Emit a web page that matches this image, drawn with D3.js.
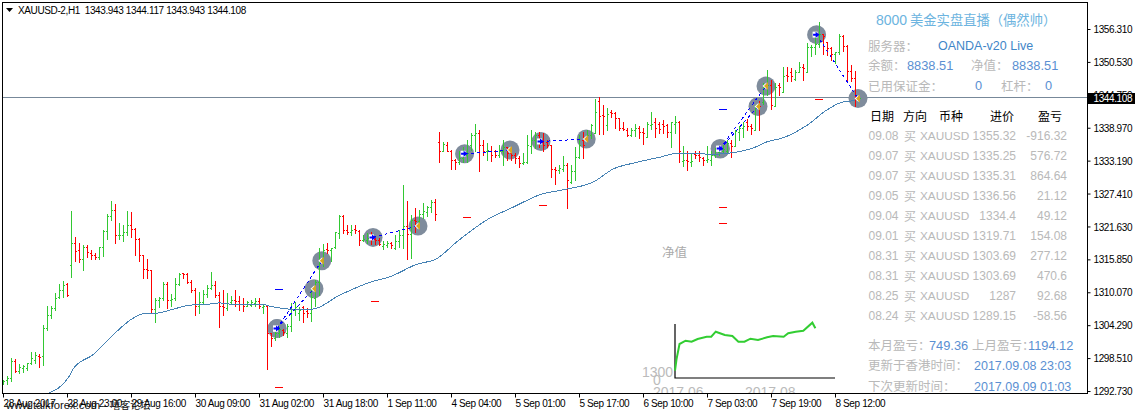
<!DOCTYPE html>
<html>
<head>
<meta charset="utf-8">
<script src="https://cdn.jsdelivr.net/npm/d3@7"></script>
<style>
body { margin: 0; background: #fff; }
text { font-family: "Liberation Sans", Arial, sans-serif; }
.mt { font-size: 10px; letter-spacing: -0.38px; fill: #000; }
.cn { font-family: "Noto Sans CJK SC", sans-serif; }
</style>
</head>
<body>
<div id="chart"></div>
<script>
// hourly bars
var opens = [1294.3,1294.7,1295.0,1298.0,1296.3,1296.7,1296.8,1297.7,1298.2,1298.8,
  1298.9,1303.8,1306.1,1307.3,1309.2,1310.5,1311.5,1314.8,1318.7,1317.5,
  1316.0,1318.1,1316.9,1316.6,1316.2,1318.1,1320.9,1323.4,1324.5,1320.1,
  1320.2,1320.7,1321.9,1321.1,1319.4,1316.6,1314.1,1314.0,1307.1,1308.8,
  1309.1,1311.6,1308.7,1309.0,1311.6,1313.4,1313.3,1311.8,1310.5,1307.7,
  1308.4,1309.7,1310.8,1311.4,1309.6,1307.6,1307.3,
  1308.3,1308.7,1308.6,1308.0,1307.7,1307.9,1308.1,1308.6,1307.4,1307.7,
  1302.9,1302.0,1302.9,1303.5,1302.9,1304.2,1307.0,1306.4,1307.4,1306.7,
  1306.4,1309.0,1311.9,1315.5,1317.7,1317.5,1318.0,1320.4,1323.4,1321.0,
  1320.7,1321.1,1320.8,1319.3,1319.3,1320.1,1319.4,1319.3,1318.2,1318.4,
  1318.7,1317.9,1319.0,1320.1,1321.7,1320.3,1322.8,1322.6,1323.9,1324.2,
  1325.1,1326.0,
  1336.5,1334.9,1335.9,1334.9,1333.3,1333.0,1333.6,1334.2,1335.9,1337.7,
  1338.0,1335.9,1334.9,1334.9,1334.9,1334.1,1334.8,1335.5,1334.5,1334.2,
  1333.6,1332.8,1333.0,1335.8,1336.8,1337.7,1336.5,1336.5,1335.9,1331.7,
  1331.6,1331.7,1332.4,1329.5,1331.4,1333.9,1336.8,1337.1,1337.7,1338.0,
  1343.6,1341.2,1339.5,1341.8,1341.5,1340.6,1338.9,1338.6,1337.7,1338.6,
  1338.9,1338.3,1337.4,1339.5,1339.9,1339.7,1339.7,1339.5,1338.3,1339.7,
  1340.0,
  1333.1,1333.3,1333.0,1334.3,1334.1,1333.7,1333.3,1333.3,1334.2,1334.7,
  1334.8,1334.8,1336.2,1335.7,1338.3,1338.9,1339.9,1339.2,1338.6,1343.0,
  1343.5,1346.2,1346.5,1342.7,1346.5,1345.2,1348.2,1348.8,1347.5,1348.7,
  1349.7,1348.8,1353.2,1353.2,1353.6,1355.4,1354.1,1352.9,1351.9,1352.2,
  1355.1,1353.4,1349.0,1347.7,1343.943];
var highs = [1294.7,1295.3,1298.5,1298.3,1297.4,1297.3,1297.6,1299.5,1299.5,1299.3,
  1304.4,1307.7,1307.6,1310.0,1311.5,1312.1,1311.7,1324.4,1319.7,1318.7,
  1318.4,1318.4,1317.5,1317.0,1318.1,1321.0,1323.8,1326.1,1325.6,1322.3,
  1321.9,1324.4,1324.1,1321.3,1319.6,1316.6,1316.0,1314.0,1309.0,1309.3,
  1311.8,1311.8,1309.8,1312.5,1313.5,1313.5,1313.5,1312.2,1310.8,1310.2,
  1310.4,1311.4,1313.7,1312.0,1310.2,1310.4,1309.9,
  1309.4,1310.5,1309.4,1309.0,1308.6,1308.8,1309.0,1309.0,1307.8,1307.8,
  1303.0,1303.8,1304.0,1303.6,1304.5,1308.1,1308.4,1307.5,1307.7,1307.3,
  1310.5,1312.2,1317.9,1318.6,1318.7,1317.9,1320.7,1323.7,1323.7,1321.9,
  1321.9,1321.9,1321.0,1320.1,1320.4,1320.7,1319.6,1319.6,1319.1,1319.1,
  1318.9,1320.1,1321.0,1328.9,1326.1,1323.7,1324.8,1324.5,1325.7,1325.2,
  1326.3,1326.5,
  1338.2,1336.4,1336.5,1335.1,1333.4,1334.8,1335.6,1336.8,1338.0,1339.7,
  1338.6,1336.8,1336.2,1335.8,1335.1,1335.9,1336.8,1335.6,1335.6,1334.5,
  1334.0,1334.5,1337.7,1338.6,1338.3,1338.3,1338.0,1336.8,1335.9,1332.0,
  1332.4,1334.0,1332.7,1332.4,1335.6,1337.7,1338.3,1338.6,1339.7,1344.0,
  1344.3,1343.0,1342.4,1342.1,1341.8,1340.6,1340.0,1339.0,1338.9,1339.6,
  1339.2,1338.9,1339.9,1341.8,1340.6,1339.9,1340.3,1339.7,1339.9,1341.0,
  1340.2,
  1335.8,1334.9,1334.3,1334.8,1334.8,1333.9,1335.8,1334.9,1335.4,1335.7,
  1336.0,1336.8,1336.8,1338.6,1339.2,1340.0,1340.5,1339.7,1343.0,1343.6,
  1346.8,1349.1,1347.4,1346.8,1346.8,1349.6,1349.7,1349.5,1349.1,1350.6,
  1350.1,1353.8,1353.5,1355.3,1357.5,1355.5,1354.1,1353.2,1352.3,1355.4,
  1355.3,1353.5,1350.0,1349.0,1344.117];
var lows = [1294.0,1294.0,1294.4,1296.0,1295.9,1296.1,1296.4,1297.5,1297.6,1297.0,
  1297.3,1303.5,1305.5,1307.0,1309.0,1309.3,1309.4,1312.8,1315.5,1315.3,
  1313.9,1316.3,1315.9,1315.9,1315.9,1316.5,1319.5,1322.8,1318.8,1319.5,
  1319.0,1320.1,1319.8,1316.6,1315.5,1312.5,1312.5,1306.4,1304.9,1307.4,
  1308.7,1307.3,1307.7,1308.8,1311.4,1312.5,1311.7,1310.2,1306.1,1306.4,
  1308.1,1309.2,1310.6,1309.2,1303.9,1306.1,1307.0,
  1308.0,1307.6,1307.0,1306.7,1307.6,1307.7,1307.7,1307.3,1306.4,1296.6,
  1300.7,1301.7,1302.3,1302.6,1302.3,1303.3,1306.1,1305.2,1304.9,1305.8,
  1305.1,1307.6,1309.6,1314.6,1316.9,1315.5,1317.8,1319.6,1320.4,1320.3,
  1320.1,1320.4,1318.3,1319.0,1318.8,1318.6,1318.6,1318.4,1317.6,1318.0,
  1317.8,1317.6,1318.0,1317.9,1315.9,1316.1,1320.7,1322.2,1323.2,1323.4,
  1324.2,1322.8,
  1333.0,1334.8,1334.8,1331.7,1331.8,1332.6,1333.0,1333.0,1335.1,1334.8,
  1331.4,1334.2,1333.3,1333.2,1333.8,1333.9,1332.4,1333.3,1333.3,1332.7,
  1332.1,1332.6,1332.8,1334.5,1335.4,1335.6,1334.9,1335.5,1330.3,1329.1,
  1331.0,1331.4,1324.9,1329.3,1329.8,1333.6,1333.6,1336.8,1337.1,1338.0,
  1337.9,1337.9,1338.6,1340.8,1338.9,1338.5,1338.5,1337.5,1337.5,1337.5,
  1337.1,1336.1,1337.4,1338.7,1337.4,1338.0,1338.1,1337.3,1335.6,1338.0,
  1333.0,
  1332.2,1331.5,1332.2,1333.6,1333.2,1332.5,1333.0,1332.5,1333.9,1334.2,
  1334.5,1334.5,1333.8,1335.7,1336.8,1337.4,1338.6,1337.8,1338.6,1338.6,
  1343.2,1344.7,1342.3,1342.7,1344.7,1345.2,1347.2,1347.2,1347.4,1348.7,
  1347.4,1348.7,1351.6,1352.0,1353.2,1351.9,1351.7,1350.9,1350.3,1352.0,
  1352.5,1347.2,1347.1,1342.7,1343.943];
var closes = [1294.4,1295.0,1298.0,1296.2,1297.0,1297.1,1297.6,1298.6,1299.1,1298.7,
  1303.8,1306.1,1307.3,1309.0,1310.5,1311.4,1309.6,1318.7,1317.4,1316.0,
  1318.1,1317.2,1316.6,1316.2,1318.1,1320.9,1323.4,1324.5,1320.1,1320.2,
  1320.7,1321.9,1321.1,1319.4,1316.6,1314.1,1314.0,1307.1,1308.8,1309.1,
  1311.6,1308.7,1308.9,1311.6,1313.3,1313.3,1311.8,1310.5,1307.7,1308.4,
  1309.7,1310.8,1311.4,1309.6,1307.6,1307.5,1308.1,
  1308.8,1308.6,1308.0,1307.7,1308.3,1308.4,1308.6,1307.7,1307.7,1302.9,
  1302.0,1302.9,1303.6,1303.1,1304.2,1307.1,1307.5,1307.0,1306.4,1306.4,
  1309.3,1311.9,1315.5,1317.5,1317.5,1317.8,1320.6,1323.5,1321.0,1320.7,
  1321.0,1321.0,1319.3,1319.4,1319.6,1319.6,1319.3,1318.6,1318.6,1318.8,
  1318.4,1319.0,1320.1,1321.7,1320.3,1322.8,1322.6,1323.9,1324.4,1325.1,
  1326.0,1323.8,
  1334.9,1336.1,1334.9,1333.3,1333.0,1333.6,1334.2,1334.5,1337.7,1338.0,
  1335.9,1334.9,1335.0,1334.2,1334.1,1334.9,1335.6,1334.5,1334.2,1333.6,
  1332.8,1333.0,1335.9,1336.8,1337.7,1336.5,1335.9,1335.9,1331.7,1331.6,
  1331.9,1332.4,1329.8,1331.4,1333.9,1335.9,1335.9,1337.7,1339.5,1341.8,
  1341.0,1341.0,1341.4,1341.5,1340.6,1338.9,1338.7,1337.7,1338.6,1338.9,
  1338.3,1338.1,1339.7,1339.7,1339.0,1338.7,1339.2,1338.3,1339.9,1340.0,
  1334.8,
  1333.3,1333.1,1333.1,1334.1,1333.9,1333.3,1333.5,1334.2,1334.9,1335.1,
  1335.3,1336.2,1335.7,1338.4,1338.9,1339.2,1339.2,1338.9,1342.7,1342.7,
  1346.2,1346.5,1343.0,1346.2,1346.2,1348.1,1348.1,1348.0,1348.8,1349.7,
  1349.4,1353.2,1353.2,1353.6,1355.5,1355.0,1352.9,1351.9,1352.2,1355.1,
  1353.4,1349.0,1347.7,1344.7,1344.108];

// moving average, bar position / price
var maBars = [11.5,16.25,17.75,22.5,28,32.25,35,38.5,42.5,46.75,51.75,54.25,56.75,64.25,67.5,72.25,77.25,84.25,92.5,96.75,103.5,108.25,113.75,121.25,127.5,134.25,141,147.5,152.5,158.5,164.25,168.75,171.75,177.5,183.5,187.5,191,195,201,206,210,213];
var maValues = [1292.4,1295.0,1296.8,1299.1,1302.9,1305.4,1306.3,1306.4,1307.1,1307.8,1308.0,1308.2,1308.0,1308.0,1307.5,1307.1,1307.1,1309.6,1312.0,1312.8,1315.0,1315.9,1319.1,1322.9,1325.0,1327.2,1328.2,1329.4,1331.7,1332.9,1333.8,1334.5,1334.5,1334.3,1334.7,1335.4,1336.5,1337.2,1339.4,1342.1,1343.5,1343.7];

// trades
var entryBars = [68.5,68.5,92.5,115.4,134.5,179.3,179.3,203.4];
var entryPrices = [1303.69,1303.69,1319.71,1334.4,1336.56,1335.25,1335.31,1355.32];
var exitBars = [79.7,77.75,103.75,126.75,145.8,188.75,190.75,213.75];
var exitPrices = [1315.6,1310.7,1321.7,1335.05,1337.0,1342.7,1346.3,1344.1];

// short level marks
var levelBars = [69,69,93,116,135,180,180,180,204];
var levelPrices = [1293.4,1310.65,1308.5,1323.3,1325.4,1342.2,1325.0,1322.2,1344.1];
var levelColors = ["#f00","#00f","#f00","#f00","#f00","#00f","#f00","#f00","#f00"];

var priceTicks = [1356.31,1350.53,1344.75,1338.97,1333.19,1327.41,1321.63,1315.85,1310.07,1304.29,1298.51,1292.73];
var timeBars = [0,16,32,48,64,80,96,112,128,144,160,176,192,208];
var timeLabels = ["28 Aug 2017","28 Aug 23:00","29 Aug 16:00","30 Aug 09:00","31 Aug 02:00","31 Aug 18:00","1 Sep 11:00","4 Sep 04:00","5 Sep 01:00","5 Sep 17:00","6 Sep 10:00","7 Sep 03:00","7 Sep 19:00","8 Sep 12:00"];

// small equity chart
var equityDays = [0,1,3,7,11,15,21,24,27,33,38,42,46,50,55,61,65,72,75,80,85,91,93];
var equityValues = [1352,3463,6296,6908,6723,7223,7649,7649,8575,7964,7778,6723,6723,7278,7038,7538,7778,7649,8278,8575,8760,10241,9204];

// table
var rowDates = ["09.08","09.07","09.07","09.05","09.04","09.01","08.31","08.31","08.25","08.24"];
var rowSymbol = "XAUUSD";
var rowPrices = ["1355.32","1335.25","1335.31","1336.56","1334.4","1319.71","1303.69","1303.69","1287","1289.15"];
var rowProfits = ["-916.32","576.72","864.64","21.12","49.12","154.08","277.12","470.6","92.68","-58.56"];

var width = 1135, height = 415;
var svg = d3.select("#chart").append("svg").attr("width", width).attr("height", height).style("display", "block");

var x = d3.scaleLinear().domain([0, 214]).range([3, 859]);
var y = d3.scaleLinear().domain([1292.73, 1356.31]).range([391, 29]);

svg.append("defs").append("clipPath").attr("id", "plot")
  .append("rect").attr("x", 3).attr("y", 3).attr("width", 1084).attr("height", 390);

var plot = svg.append("g").attr("clip-path", "url(#plot)");

// bid line
plot.append("line").attr("x1", 2).attr("x2", 1087)
  .attr("y1", Math.round(y(closes[214])) + 0.5 - 1).attr("y2", Math.round(y(closes[214])) + 0.5 - 1)
  .attr("stroke", "#778899").attr("shape-rendering", "crispEdges");

// trade circles sit under the bars
var entryDots = entryBars.map(function (b, i) { return [b, entryPrices[i]]; });
var exitDots = exitBars.map(function (b, i) { return [b, exitPrices[i]]; });
plot.selectAll(".halo").data(entryDots.concat(exitDots)).enter().append("circle")
  .attr("cx", function (d) { return x(d[0]); })
  .attr("cy", function (d) { return y(d[1]); })
  .attr("r", 9.5).attr("fill", "#7f8c9c");

// bars
var bars = plot.selectAll(".bar").data(d3.range(opens.length)).enter().append("g")
  .attr("stroke", function (i) { return closes[i] >= opens[i] ? "#32c832" : "#f00"; })
  .attr("shape-rendering", "crispEdges");
bars.append("line")
  .attr("x1", function (i) { return x(i) + 0.5; }).attr("x2", function (i) { return x(i) + 0.5; })
  .attr("y1", function (i) { return Math.round(y(highs[i])); }).attr("y2", function (i) { return Math.round(y(lows[i])) + 1; });
bars.append("line")
  .attr("x1", function (i) { return x(i) - 1; }).attr("x2", function (i) { return x(i); })
  .attr("y1", function (i) { return Math.round(y(opens[i])) + 0.5; }).attr("y2", function (i) { return Math.round(y(opens[i])) + 0.5; });
bars.append("line")
  .attr("x1", function (i) { return x(i) + 1; }).attr("x2", function (i) { return x(i) + 2; })
  .attr("y1", function (i) { return Math.round(y(closes[i])) + 0.5; }).attr("y2", function (i) { return Math.round(y(closes[i])) + 0.5; });

// moving average
plot.append("path").datum(maBars)
  .attr("fill", "none").attr("stroke", "#4682b4").attr("stroke-width", 1)
  .attr("shape-rendering", "crispEdges")
  .attr("d", d3.line().curve(d3.curveMonotoneX).x(function (d) { return x(d); }).y(function (d, i) { return y(maValues[i]); }));

// dashed trade lines
plot.selectAll(".trade").data(entryBars).enter().append("line")
  .attr("x1", function (d) { return x(d); })
  .attr("y1", function (d, i) { return y(entryPrices[i]); })
  .attr("x2", function (d, i) { return x(exitBars[i]); })
  .attr("y2", function (d, i) { return y(exitPrices[i]); })
  .attr("stroke", "#00f").attr("stroke-dasharray", "3,3").attr("shape-rendering", "crispEdges");

// level marks
plot.selectAll(".level").data(levelBars).enter().append("line")
  .attr("x1", function (d) { return x(d) - 4; }).attr("x2", function (d) { return x(d) + 4; })
  .attr("y1", function (d, i) { return Math.round(y(levelPrices[i])) + 0.5; })
  .attr("y2", function (d, i) { return Math.round(y(levelPrices[i])) + 0.5; })
  .attr("stroke", function (d, i) { return levelColors[i]; })
  .attr("shape-rendering", "crispEdges");

// arrows
var entryMarks = plot.selectAll(".entry").data(entryDots).enter().append("g")
  .attr("transform", function (d) { return "translate(" + x(d[0]) + "," + y(d[1]) + ")"; });
entryMarks.append("path").attr("d", "M-4,-3H1V3H-4Z").attr("fill", "#fff");
entryMarks.append("path").attr("d", "M-3.5,-1H-1V-3L3,0L-1,3V1H-3.5Z").attr("fill", "#00f");

var exitMarks = plot.selectAll(".exit").data(exitDots).enter().append("g")
  .attr("transform", function (d) { return "translate(" + x(d[0]) + "," + y(d[1]) + ")"; });
exitMarks.append("path").attr("d", "M-3.5,0L0.5,-3.5V3.5Z").attr("fill", "#fff");
exitMarks.append("path").attr("d", "M-2,0L2,-4V4Z").attr("fill", "#daa520");

// frame
svg.append("rect").attr("x", 2.5).attr("y", 2.5).attr("width", 1085).attr("height", 391)
  .attr("fill", "none").attr("stroke", "#000").attr("stroke-width", 1.2).attr("shape-rendering", "crispEdges");

// axes
var yAxis = svg.append("g").attr("class", "mt").attr("transform", "translate(1087.5,0)")
  .call(d3.axisRight(y).tickValues(priceTicks).tickFormat(d3.format(".3f")).tickSize(3).tickSizeOuter(0));
yAxis.select(".domain").remove();
yAxis.selectAll("text").attr("x", 6).attr("dy", "0.36em");

var xAxis = svg.append("g").attr("class", "mt").attr("transform", "translate(0,393.5)")
  .call(d3.axisBottom(x).tickValues(timeBars).tickFormat(function (d, i) { return timeLabels[i]; }).tickSize(4).tickSizeOuter(0));
xAxis.select(".domain").remove();
xAxis.selectAll("text").attr("text-anchor", "start").attr("x", 0).attr("y", 6).attr("dy", "0.71em");

// top-left title
svg.append("path").attr("d", "M6,8H13L9.5,12Z").attr("fill", "#000");
svg.append("text").attr("class", "mt").attr("x", 18).attr("y", 14).text("XAUUSD-2,H1  1343.943 1344.117 1343.943 1344.108").attr("xml:space", "preserve");

// current price box
svg.append("rect").attr("x", 1088).attr("y", 93).attr("width", 47).attr("height", 11).attr("fill", "#000");
svg.append("text").attr("class", "mt").attr("x", 1093.5).attr("y", 102).style("fill", "#fff").text(d3.format(".3f")(closes[214]));

// watermark
svg.append("text").attr("x", 6).attr("y", 409).attr("font-size", 11.3).attr("fill", "#111").text("www.talkforex.com - ")
  .append("tspan").attr("class", "cn").attr("font-size", 10).text("嘻客论坛");

// panel helpers
var grey = "#b9b9b9", blue = "#5a8fd2", blue2 = "#3f86c8";
function label(px, py, str, color, size, anchor) {
  return svg.append("text").attr("x", px).attr("y", py).attr("fill", color)
    .attr("font-size", size || 12).attr("text-anchor", anchor || "start").text(str);
}
function cn(px, py, str, color, size, anchor) {
  return label(px, py, str, color, size, anchor).attr("class", "cn");
}

label(876, 25, "8000", "#6cb4e0", 14);
cn(910, 25, "美金实盘直播（偶然帅）", "#6cb4e0", 13.3);
cn(868, 51, "服务器：", grey, 12.5);
label(938, 50, "OANDA-v20 Live", blue2, 12.5);
cn(868, 70, "余额：", grey, 12.5);
label(907, 70, "8838.51", blue, 12.8);
cn(971, 70, "净值：", grey, 12.5);
label(1012, 70, "8838.51", blue, 12.8);
cn(868, 91, "已用保证金：", grey, 12.5);
label(975, 90, "0", blue, 12.8);
cn(1001, 91, "杠杆：", grey, 12.5);
label(1045, 90, "0", blue, 12.8);

var headers = ["日期", "方向", "币种", "进价", "盈亏"];
var headerX = [870, 903, 939, 990, 1038];
headers.forEach(function (h, i) { cn(headerX[i], 121, h, "#000", 12); });

var rowY = d3.scaleLinear().domain([0, 9]).range([140, 320]);
rowDates.forEach(function (d, i) {
  label(868.5, rowY(i), d, grey);
  cn(904, rowY(i) + 1, "买", grey, 12);
  label(920, rowY(i), rowSymbol, grey, 11.8);
  label(1016, rowY(i), rowPrices[i], grey, 12, "end");
  label(1067, rowY(i), rowProfits[i], grey, 12, "end");
});

cn(868, 350, "本月盈亏：", grey, 12.5);
label(929, 350, "749.36", blue, 12.8);
cn(972, 350, "上月盈亏：", grey, 12.5);
label(1028, 350, "1194.12", blue, 12.8);
cn(868, 370, "更新于香港时间：", grey, 12.5);
label(974, 370, "2017.09.08 23:03", blue, 12.5);
cn(868, 391, "下次更新时间：", grey, 12.5);
label(974, 391, "2017.09.09 01:03", blue, 12.5);

// equity chart
var eqX = d3.scaleLinear().domain([0, 106]).range([675, 835]);
var eqY = d3.scaleLinear().domain([0, 10000]).range([378, 324]);
cn(662, 257, "净值", "#aaa", 12.5);
label(642, 377, "1300", "#bbb", 14);
label(653, 385, "0", "#bbb", 14);
var clipped = svg.append("g").attr("clip-path", "url(#plot)");
clipped.append("text").attr("x", 653).attr("y", 397).attr("font-size", 14).attr("fill", "#bbb").text("2017.06");
clipped.append("text").attr("x", 745).attr("y", 397).attr("font-size", 14).attr("fill", "#bbb").text("2017.08");
svg.append("path").attr("d", "M" + eqX(0) + "," + eqY(10000) + "V" + eqY(0) + "H" + eqX(106))
  .attr("fill", "none").attr("stroke", "#000").attr("stroke-width", 1.2);
svg.append("path").datum(equityDays).attr("fill", "none").attr("stroke", "#32cd32").attr("stroke-width", 2)
  .attr("d", d3.line().x(function (d) { return eqX(d); }).y(function (d, i) { return eqY(equityValues[i]); }));
</script>
</body>
</html>
